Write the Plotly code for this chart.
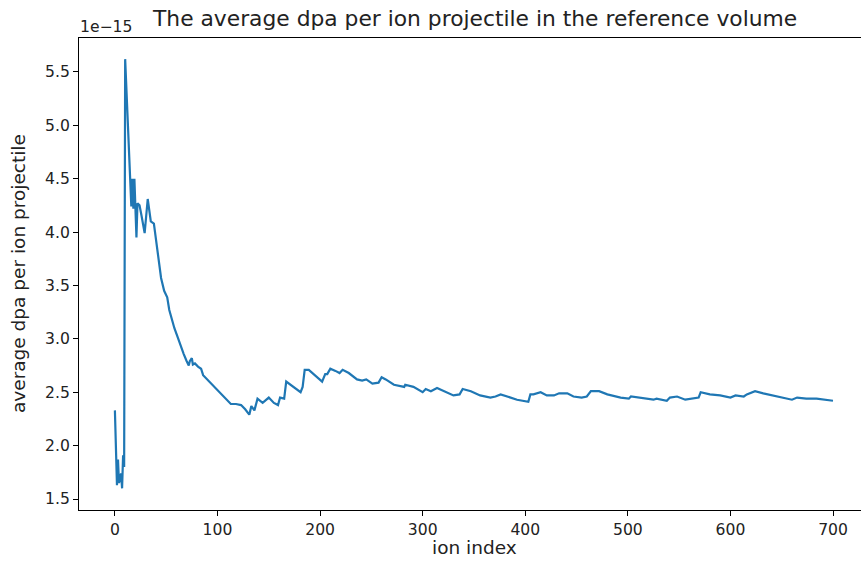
import plotly.graph_objects as go

# ion index (x) and average dpa per ion projectile (in units of 1e-15)
ion_index = [0, 2, 3, 4, 6, 7, 8, 9, 10, 13, 15, 16, 17, 18, 19, 20, 21, 22, 24, 26,
             29, 32, 35, 38, 41, 45, 48, 51, 53, 55, 58, 61, 64, 67, 70, 72, 73, 75, 76, 78,
             81, 84, 86, 89, 93, 97, 100, 104, 108, 111, 113, 118, 123, 127, 131, 133, 136, 139, 144, 150,
             155, 159, 161, 165, 167, 181, 183, 185, 189, 202, 205, 207, 210, 215, 219, 222, 228, 236, 241, 245,
             251, 257, 260, 264, 272, 282, 283, 291, 300, 303, 308, 314, 321, 330, 336, 339, 347, 356, 366, 371,
             376, 382, 392, 403, 405, 408, 415, 421, 428, 433, 441, 447, 455, 460, 464, 472, 480, 493, 501, 503,
             512, 525, 528, 538, 541, 548, 556, 564, 569, 571, 580, 590, 600, 605, 613, 616, 624, 632, 645, 660,
             665, 674, 684, 691, 700]
avg_dpa = [2.33, 1.63, 1.87, 1.65, 1.74, 1.60, 1.91, 1.80, 5.62, 4.86, 4.52, 4.24, 4.50, 4.22, 4.50, 4.10, 3.95, 4.27, 4.25, 4.15,
           3.99, 4.31, 4.10, 4.08, 3.85, 3.57, 3.45, 3.39, 3.27, 3.20, 3.10, 3.02, 2.93, 2.86, 2.79, 2.75, 2.79, 2.82, 2.76, 2.77,
           2.74, 2.72, 2.66, 2.63, 2.59, 2.55, 2.52, 2.49, 2.45, 2.42, 2.39, 2.39, 2.38, 2.34, 2.29, 2.37, 2.33, 2.44, 2.40, 2.45,
           2.40, 2.38, 2.45, 2.44, 2.60, 2.50, 2.55, 2.71, 2.71, 2.60, 2.67, 2.67, 2.72, 2.70, 2.68, 2.71, 2.68, 2.62, 2.61, 2.62,
           2.58, 2.59, 2.64, 2.62, 2.57, 2.55, 2.57, 2.55, 2.50, 2.53, 2.51, 2.54, 2.51, 2.47, 2.48, 2.53, 2.51, 2.47, 2.45, 2.46,
           2.48, 2.46, 2.43, 2.41, 2.48, 2.48, 2.50, 2.47, 2.47, 2.49, 2.49, 2.46, 2.45, 2.46, 2.51, 2.51, 2.48, 2.45, 2.44, 2.46,
           2.45, 2.43, 2.44, 2.42, 2.45, 2.46, 2.43, 2.44, 2.45, 2.50, 2.48, 2.47, 2.45, 2.47, 2.46, 2.48, 2.51, 2.49, 2.46, 2.43,
           2.45, 2.44, 2.44, 2.43, 2.42]

x_ticks = [0, 100, 200, 300, 400, 500, 600, 700]
y_ticks = [1.5, 2.0, 2.5, 3.0, 3.5, 4.0, 4.5, 5.0, 5.5]

title_text = "The average dpa per ion projectile in the reference volume"
x_label = "ion index"
y_label = "average dpa per ion projectile"
offset_text = "1e\u221215"

FONT = "DejaVu Sans"
TICK_SIZE = 15.6
LABEL_SIZE = 18.5
TITLE_SIZE = 21.8
W, H = 861, 566
L, R, T, B = 79, 0, 38, 56
pw, ph = W - L - R, H - T - B

def px_x(p):
    return (p - L) / pw

def px_y(p):
    return (H - B - p) / ph

fig = go.Figure()
fig.add_trace(go.Scatter(x=ion_index, y=avg_dpa, mode="lines",
                         line=dict(color="#1f77b4", width=2.2), hoverinfo="skip"))

axis_common = dict(showgrid=False, zeroline=False, showline=True, linecolor="black",
                   linewidth=1.1, ticks="outside", ticklen=5, tickwidth=1.1, tickcolor="black",
                   tickfont=dict(family=FONT, size=TICK_SIZE, color="#222222"))

fig.update_layout(
    width=W, height=H,
    margin=dict(l=L, r=R, t=T, b=B, autoexpand=False),
    paper_bgcolor="white", plot_bgcolor="white",
    showlegend=False,
    xaxis=dict(range=[-35, (W - 114) / 1.0271], tickvals=x_ticks,
               ticktext=[str(v) for v in x_ticks], mirror=True, **axis_common),
    yaxis=dict(range=[1.397, 5.818], tickvals=y_ticks,
               ticktext=[f"{v:.1f}" for v in y_ticks], mirror=False, **axis_common),
    annotations=[
        dict(text=title_text, x=px_x(474.5), y=px_y(18.5), xref="paper", yref="paper",
             xanchor="center", yanchor="middle", showarrow=False,
             font=dict(family=FONT, size=TITLE_SIZE, color="#222222")),
        dict(text=offset_text, x=px_x(78), y=px_y(27), xref="paper", yref="paper",
             xanchor="left", yanchor="middle", showarrow=False,
             font=dict(family=FONT, size=TICK_SIZE, color="#222222")),
        dict(text=x_label, x=px_x(474.5), y=px_y(547), xref="paper", yref="paper",
             xanchor="center", yanchor="middle", showarrow=False,
             font=dict(family=FONT, size=LABEL_SIZE, color="#222222")),
        dict(text=y_label, x=px_x(18), y=px_y(274), xref="paper", yref="paper",
             xanchor="center", yanchor="middle", showarrow=False, textangle=-90,
             font=dict(family=FONT, size=LABEL_SIZE, color="#222222")),
    ],
)

fig.write_html("out.html")
